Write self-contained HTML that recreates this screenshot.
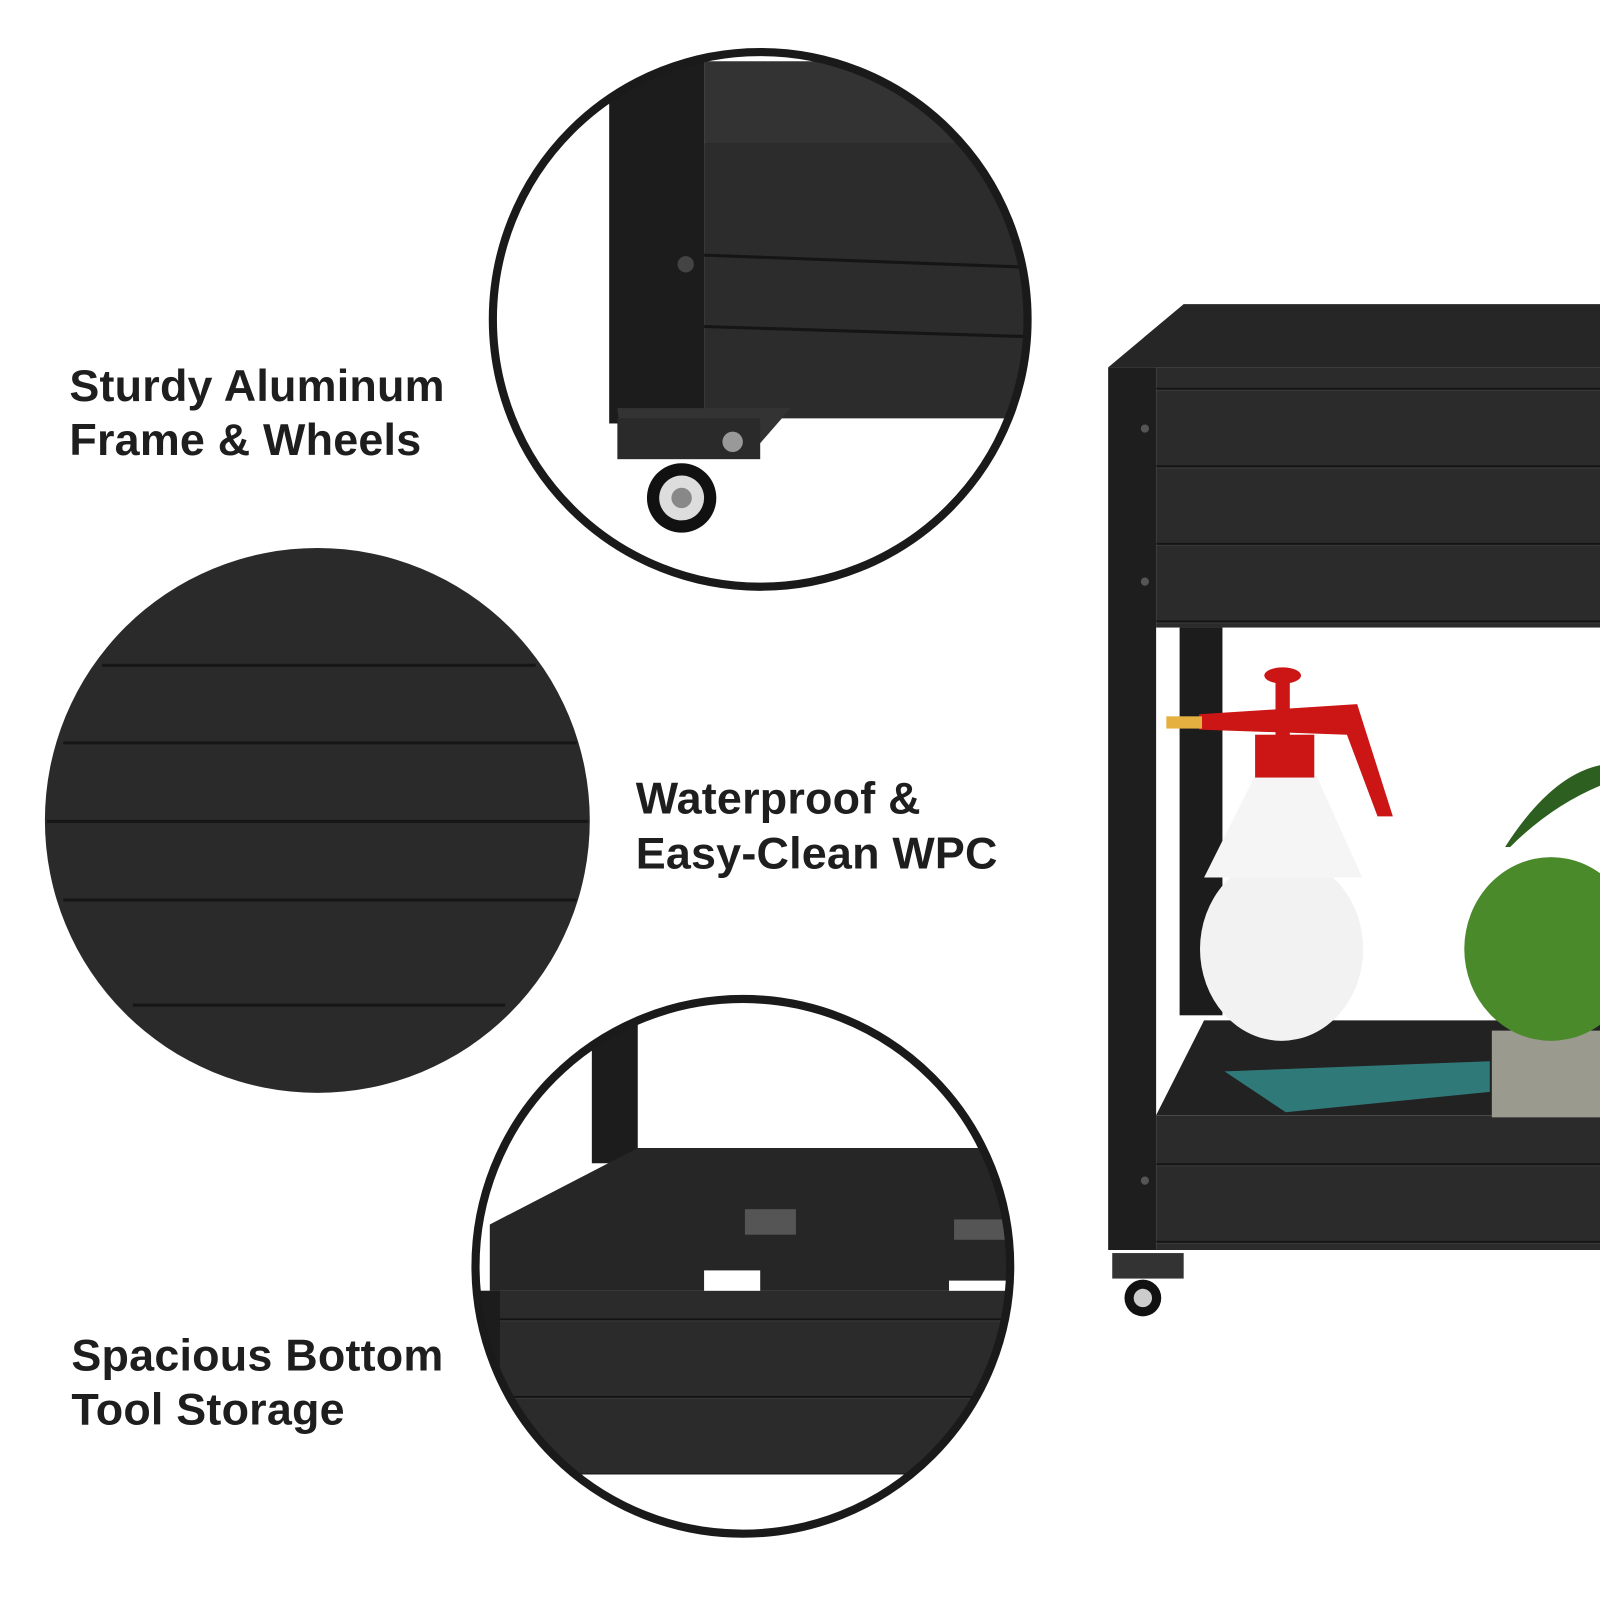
<!DOCTYPE html>
<html><head><meta charset="utf-8"><style>
html,body{margin:0;padding:0;background:#fff;}
svg{display:block;}
text{font-family:"Liberation Sans",sans-serif;font-weight:bold;fill:#1e1e1e;font-size:44px;letter-spacing:0.2px;}
</style></head><body>
<svg width="1600" height="1600" viewBox="0 0 1568 1568" xmlns="http://www.w3.org/2000/svg">
<defs>
<clipPath id="c1"><circle cx="745" cy="313" r="262"/></clipPath>
<clipPath id="c3"><circle cx="728" cy="1241" r="262"/></clipPath>
<pattern id="wood" width="400" height="76" patternUnits="userSpaceOnUse">
<rect width="400" height="76" fill="#2b2b2b"/><rect y="0" width="400" height="2" fill="#141414"/><rect y="2" width="400" height="1" fill="#3a3a3a"/>
</pattern>
</defs>
<g clip-path="url(#c1)">
<rect x="470" y="40" width="560" height="560" fill="#fff"/>
<polygon points="690,60 1010,60 1010,160 690,140" fill="#333"/>
<rect x="690" y="140" width="320" height="270" fill="#2c2c2c"/>
<line x1="690" y1="250" x2="1010" y2="262" stroke="#151515" stroke-width="3"/>
<line x1="690" y1="320" x2="1010" y2="330" stroke="#151515" stroke-width="3"/>
<rect x="597" y="50" width="93" height="365" fill="#1c1c1c"/>
<circle cx="672" cy="259" r="8" fill="#444"/>
<path d="M605 400 L775 400 L740 440 L610 440 Z" fill="#333"/>
<rect x="605" y="410" width="140" height="40" fill="#2a2a2a"/>
<circle cx="668" cy="488" r="34" fill="#111"/>
<circle cx="668" cy="488" r="22" fill="#ddd"/>
<circle cx="668" cy="488" r="10" fill="#888"/>
<circle cx="718" cy="433" r="10" fill="#999"/>
</g>
<circle cx="745" cy="313" r="262" fill="none" stroke="#1a1a1a" stroke-width="8"/>
<circle cx="311" cy="804" r="267" fill="#2a2a2a"/>
<g stroke="#161616" stroke-width="3">
<line x1="100" y1="652" x2="525" y2="652"/><line x1="62" y1="728" x2="565" y2="728"/>
<line x1="46" y1="805" x2="576" y2="805"/><line x1="62" y1="882" x2="565" y2="882"/>
<line x1="130" y1="985" x2="495" y2="985"/>
</g>
<g clip-path="url(#c3)">
<rect x="460" y="970" width="540" height="540" fill="#fff"/>
<rect x="580" y="990" width="45" height="150" fill="#1c1c1c"/>
<polygon points="480,1200 625,1125 990,1125 990,1265 480,1265" fill="#262626"/>
<rect x="730" y="1185" width="50" height="25" fill="#555"/>
<rect x="690" y="1245" width="55" height="25" fill="#fff"/>
<rect x="935" y="1195" width="60" height="20" fill="#555"/>
<rect x="930" y="1255" width="60" height="25" fill="#fff"/>
<rect x="470" y="1265" width="530" height="180" fill="url(#wood)"/>
<rect x="470" y="1445" width="530" height="100" fill="#fff"/>
<rect x="470" y="1265" width="20" height="170" fill="#1c1c1c"/>
</g>
<circle cx="728" cy="1241" r="262" fill="none" stroke="#1a1a1a" stroke-width="8"/>
<text x="68" y="393">Sturdy Aluminum</text>
<text x="68" y="446">Frame &amp; Wheels</text>
<text x="623" y="797">Waterproof &amp;</text>
<text x="623" y="851">Easy-Clean WPC</text>
<text x="70" y="1343">Spacious Bottom</text>
<text x="70" y="1396">Tool Storage</text>
<polygon points="1086,360 1160,298 1568,298 1568,360" fill="#262626"/>
<rect x="1133" y="360" width="435" height="255" fill="url(#wood)"/>
<rect x="1133" y="1093" width="435" height="132" fill="url(#wood)"/>
<rect x="1156" y="615" width="42" height="380" fill="#1c1c1c"/>
<polygon points="1133,1093 1180,1000 1568,1000 1568,1093" fill="#222"/>
<rect x="1086" y="360" width="47" height="865" fill="#1e1e1e"/>
<circle cx="1122" cy="420" r="4" fill="#555"/><circle cx="1122" cy="570" r="4" fill="#555"/><circle cx="1122" cy="1157" r="4" fill="#555"/>
<circle cx="1120" cy="1272" r="18" fill="#111"/><circle cx="1120" cy="1272" r="9" fill="#ccc"/>
<rect x="1090" y="1228" width="70" height="25" fill="#333"/>
<ellipse cx="1256" cy="930" rx="80" ry="90" fill="#f2f2f2"/>
<path d="M1230 760 L1290 760 L1335 860 L1180 860 Z" fill="#f5f5f5"/>
<rect x="1230" y="720" width="58" height="42" fill="#cc1515"/>
<path d="M1175 700 L1330 690 L1365 800 L1350 800 L1320 720 L1175 715 Z" fill="#cc1515"/>
<rect x="1143" y="702" width="35" height="12" fill="#e5b040"/>
<ellipse cx="1257" cy="662" rx="18" ry="8" fill="#cc1515"/>
<rect x="1250" y="662" width="14" height="60" fill="#cc1515"/>
<path d="M1200 1050 L1460 1040 L1460 1070 L1260 1090 Z" fill="#2f7a78"/>
<rect x="1462" y="1010" width="106" height="85" fill="#9a9a8e"/>
<ellipse cx="1520" cy="930" rx="85" ry="90" fill="#4a8a2a"/>
<path d="M1475 830 Q1520 760 1568 750 L1568 770 Q1520 790 1480 830 Z" fill="#2d5f20"/>
</svg>
</body></html>
